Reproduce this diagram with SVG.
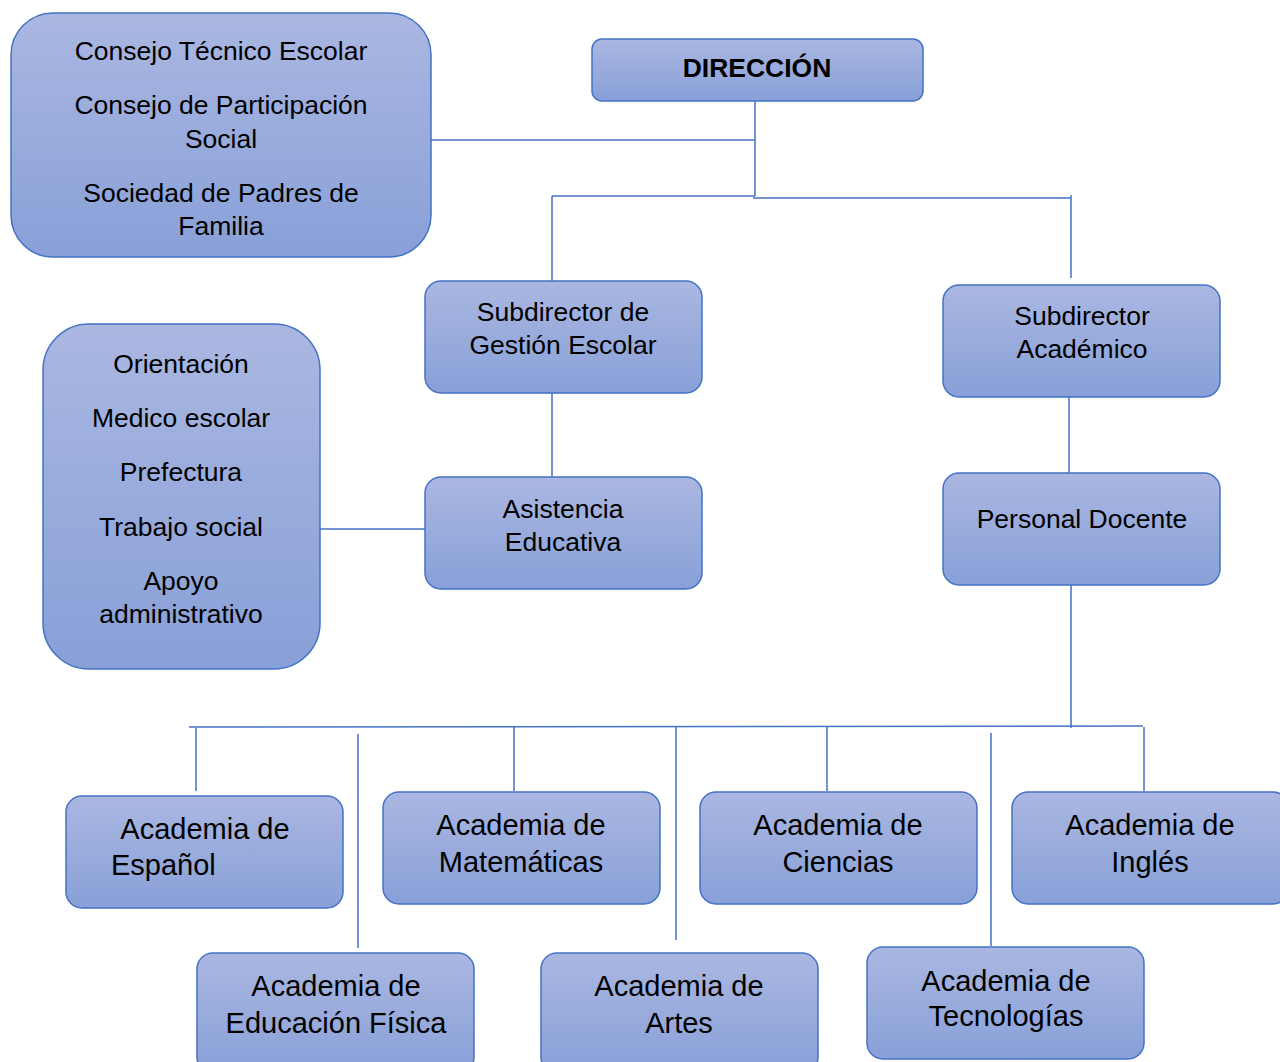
<svg xmlns="http://www.w3.org/2000/svg" width="1280" height="1062" viewBox="0 0 1280 1062">
<defs>
<linearGradient id="g" x1="0" y1="0" x2="0" y2="1">
<stop offset="0" stop-color="#aab7e1"/>
<stop offset="1" stop-color="#88a0d8"/>
</linearGradient>
</defs>
<style>
.box{fill:url(#g);stroke:#4472c4;stroke-width:1.5}
.ln{stroke:#4472c4;stroke-width:1.5;fill:none}
text{font-family:"Liberation Sans",Arial,sans-serif;fill:#000;text-anchor:middle}
.s{font-size:26.5px}
.l{font-size:29px}
.b{font-size:26.5px;font-weight:bold}
</style>
<rect width="1280" height="1062" fill="#fff"/>
<g id="connectors">
<path class="ln" d="M755,101 V196 M431,140 H755 M552,196 H755 M552,196 V281 M753,198 H1071 M1071,195 V278"/>
<path class="ln" d="M552,393 V477 M1069,397 V473 M320,529 H425"/>
<path class="ln" d="M1071,585 V728 M189,727 L1143,726"/>
<path class="ln" d="M196,728 V791 M358,734 V948 M514,727 V791 M676,727 V940 M827,727 V791 M991,733 V946 M1144,727 V791"/>
</g>
<g id="consejo">
<rect class="box" x="11" y="13" width="420" height="244" rx="42"/>
<text class="s" x="221" y="60">Consejo Técnico Escolar</text>
<text class="s" x="221" y="114">Consejo de Participación</text>
<text class="s" x="221" y="148">Social</text>
<text class="s" x="221" y="202">Sociedad de Padres de</text>
<text class="s" x="221" y="235">Familia</text>
</g>
<g id="direccion">
<rect class="box" x="592" y="39" width="331" height="62" rx="10"/>
<text class="b" x="757" y="77">DIRECCIÓN</text>
</g>
<g id="subgestion">
<rect class="box" x="425" y="281" width="277" height="112" rx="16"/>
<text class="s" x="563" y="321">Subdirector de</text>
<text class="s" x="563" y="354">Gestión Escolar</text>
</g>
<g id="subacademico">
<rect class="box" x="943" y="285" width="277" height="112" rx="16"/>
<text class="s" x="1082" y="325">Subdirector</text>
<text class="s" x="1082" y="358">Académico</text>
</g>
<g id="apoyo">
<rect class="box" x="43" y="324" width="277" height="345" rx="46"/>
<text class="s" x="181" y="373">Orientación</text>
<text class="s" x="181" y="427">Medico escolar</text>
<text class="s" x="181" y="481">Prefectura</text>
<text class="s" x="181" y="536">Trabajo social</text>
<text class="s" x="181" y="590">Apoyo</text>
<text class="s" x="181" y="623">administrativo</text>
</g>
<g id="asistencia">
<rect class="box" x="425" y="477" width="277" height="112" rx="16"/>
<text class="s" x="563" y="518">Asistencia</text>
<text class="s" x="563" y="551">Educativa</text>
</g>
<g id="docente">
<rect class="box" x="943" y="473" width="277" height="112" rx="16"/>
<text class="s" x="1082" y="528">Personal Docente</text>
</g>
<g id="espanol">
<rect class="box" x="66" y="796" width="277" height="112" rx="16"/>
<text class="l" x="205" y="839">Academia de</text>
<text class="l" x="111" y="875" style="text-anchor:start">Español</text>
</g>
<g id="matematicas">
<rect class="box" x="383" y="792" width="277" height="112" rx="16"/>
<text class="l" x="521" y="835">Academia de</text>
<text class="l" x="521" y="872">Matemáticas</text>
</g>
<g id="ciencias">
<rect class="box" x="700" y="792" width="277" height="112" rx="16"/>
<text class="l" x="838" y="835">Academia de</text>
<text class="l" x="838" y="872">Ciencias</text>
</g>
<g id="ingles">
<rect class="box" x="1012" y="792" width="277" height="112" rx="16"/>
<text class="l" x="1150" y="835">Academia de</text>
<text class="l" x="1150" y="872">Inglés</text>
</g>
<g id="fisica">
<rect class="box" x="197" y="953" width="277" height="120" rx="16"/>
<text class="l" x="336" y="996">Academia de</text>
<text class="l" x="336" y="1033">Educación Física</text>
</g>
<g id="artes">
<rect class="box" x="541" y="953" width="277" height="120" rx="16"/>
<text class="l" x="679" y="996">Academia de</text>
<text class="l" x="679" y="1033">Artes</text>
</g>
<g id="tecnologias">
<rect class="box" x="867" y="947" width="277" height="112" rx="16"/>
<text class="l" x="1006" y="991">Academia de</text>
<text class="l" x="1006" y="1026">Tecnologías</text>
</g>
</svg>
